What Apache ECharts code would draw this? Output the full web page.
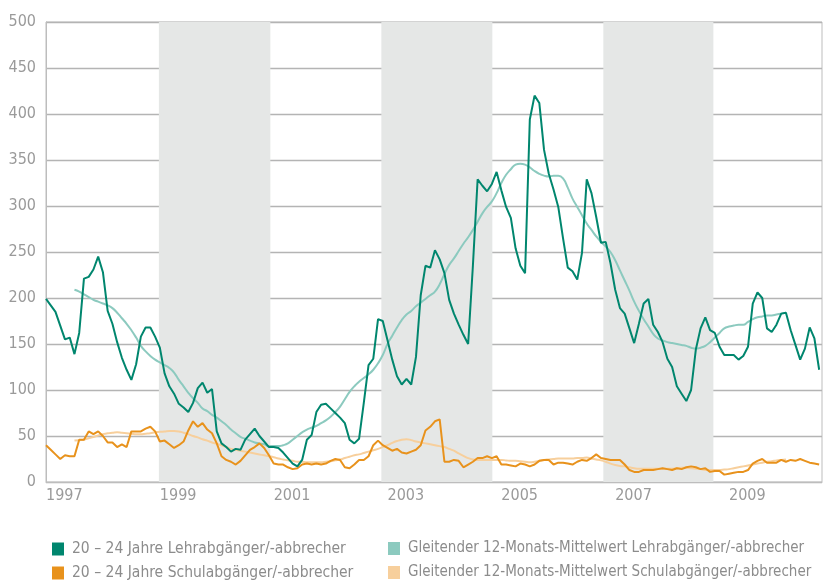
<!DOCTYPE html>
<html>
<head>
<meta charset="utf-8">
<script src="https://cdn.jsdelivr.net/npm/echarts@6/dist/echarts.min.js"></script>
<style>
  html, body { margin: 0; padding: 0; background: #fff; }
  #chart { width: 824px; height: 583px; }
</style>
</head>
<body>
<div id="chart"></div>
<script>
// monthly values, Jan 1997 = index 0
const firstYear = 1997;
const yTicks = [0, 50, 100, 150, 200, 250, 300, 350, 400, 450, 500];

const lehr = [
  199, 192, 185, 170, 155, 157, 139, 162, 221, 223,
  231, 245, 228, 186, 172, 152, 135, 122, 111, 128,
  158, 168, 168, 158, 146, 118, 104, 96, 85, 81,
  76, 86, 102, 108, 97, 101, 55, 42, 38, 33,
  36, 35, 46, 52, 58, 50, 44, 38, 38, 37,
  32, 26, 20, 17, 24, 46, 51, 76, 84, 85,
  80, 75, 70, 64, 46, 42, 47, 86, 127, 134,
  177, 175, 154, 133, 115, 106, 112, 106, 136, 203,
  235, 233, 252, 242, 227, 198, 183, 171, 160, 150,
  235, 329, 322, 316, 324, 337, 317, 299, 287, 254,
  235, 227, 394, 420, 412, 361, 335, 318, 299, 265,
  233, 229, 220, 249, 329, 314, 288, 260, 261, 238,
  209, 189, 183, 167, 151, 172, 194, 199, 171, 163,
  152, 134, 125, 104, 96, 88, 100, 144, 167, 179,
  165, 162, 147, 138, 138, 138, 133, 137, 147, 194,
  206, 200, 167, 163, 171, 183, 184, 165, 149, 133,
  145, 168, 156, 122
];

const schul = [
  40, 35, 30, 25, 29, 28, 28, 46, 46, 55,
  52, 55, 50, 43, 43, 38, 41, 38, 55, 55,
  55, 58, 60, 55, 44, 45, 41, 37, 40, 44,
  56, 66, 60, 64, 57, 53, 42, 28, 24, 22,
  19, 23, 29, 35, 38, 42, 37, 29, 20, 19,
  19, 16, 14, 15, 19, 20, 19, 20, 19, 20,
  23, 25, 24, 16, 15, 19, 24, 24, 28, 40,
  45, 40, 37, 34, 36, 32, 31, 33, 35, 40,
  56, 60, 66, 68, 22, 22, 24, 23, 16, 19,
  22, 26, 26, 28, 26, 28, 19, 19, 18, 17,
  20, 19, 17, 19, 23, 24, 24, 19, 21, 21,
  20, 19, 22, 24, 23, 26, 30, 26, 25, 24,
  24, 24, 19, 13, 11, 11, 13, 13, 13, 14,
  15, 14, 13, 15, 14, 16, 17, 16, 14, 15,
  11, 12, 12, 8, 9, 10, 11, 11, 13, 20,
  23, 25, 21, 21, 21, 24, 22, 24, 23, 25,
  23, 21, 20, 19
];

// 12-month moving averages start at month index 6
const maStart = 6;
const maLehr = [
  209, 207, 204, 201, 198, 196, 194, 192, 189, 184,
  178, 172, 165, 157, 148, 142, 137, 133, 130, 127,
  124, 119, 111, 104, 97, 91, 86, 80, 77, 73,
  70, 66, 62, 57, 53, 49, 47, 45, 43, 42,
  41, 39, 39, 39, 40, 42, 46, 50, 54, 57,
  59, 61, 64, 67, 71, 76, 82, 90, 98, 104,
  109, 113, 117, 122, 129, 138, 150, 159, 168, 176,
  182, 186, 191, 195, 199, 203, 207, 215, 226, 236,
  243, 251, 259, 266, 274, 283, 292, 299, 305, 314,
  325, 334, 340, 345, 346, 345, 342, 338, 335, 333,
  332, 333, 333, 330, 320, 308, 299, 290, 281, 274,
  267, 261, 256, 250, 241, 230, 219, 208, 196, 186,
  177, 169, 161, 156, 154, 152, 151, 150, 149, 148,
  146, 145, 146, 148, 152, 157, 162, 167, 169, 170,
  171, 171, 174, 177, 179, 180, 181, 181, 182, 183,
  184
];

const maSchul = [
  45, 45.5, 46, 47.5, 49, 50.5, 52, 53, 53.5, 54,
  53.5, 53, 52.5, 52, 52, 52.5, 53, 54, 54.5, 55,
  55.5, 55.5, 55, 53.5, 52, 50, 48.5, 46.5, 45, 43,
  41.5, 40, 38, 36, 35, 34, 33, 32, 31, 30,
  29, 28, 27, 25.5, 24.5, 23.5, 23, 22, 22, 21.5,
  21.5, 21.5, 21.5, 22, 22.5, 23.5, 24.5, 26, 27.5, 29,
  30, 31.5, 33, 34.5, 36, 38, 40, 42.5, 44.5, 46,
  46.5, 45.5, 44, 43, 42, 41, 40, 39, 38, 36,
  34, 31, 28.5, 26, 24.5, 24, 24, 24, 24, 24,
  24, 23.5, 23, 23, 22.5, 22, 21.5, 22, 23, 24,
  24.5, 25, 25.5, 25.5, 25.5, 25.5, 26, 26, 26.5, 25.5,
  24.5, 23.5, 22, 20, 18.5, 17.5, 17, 16, 15, 14.5,
  14.5, 14.5, 14.5, 14.5, 14.5, 14.5, 14.5, 15, 15.5, 15.5,
  15, 14.5, 14, 13, 13, 13, 13, 13.5, 14, 15,
  16, 17, 18, 19, 20, 21, 22, 22.5, 23.5, 24,
  24.5
];

// shaded periods, in month index
const bands = [[23.8, 47.3], [70.7, 94.1], [117.5, 140.7]];

const names = [
  '20 – 24 Jahre Lehrabgänger/-abbrecher',
  'Gleitender 12-Monats-Mittelwert Lehrabgänger/-abbrecher',
  '20 – 24 Jahre Schulabgänger/-abbrecher',
  'Gleitender 12-Monats-Mittelwert Schulabgänger/-abbrecher'
];
const colors = ['#00866e', '#8ccabf', '#e8921c', '#f7cf9c'];

const font = "'Liberation Sans Narrow', 'DejaVu Sans Condensed', 'Roboto', sans-serif";

function pairs(arr, offset) {
  return arr.map((v, i) => [i + offset, v]);
}

// one legend per entry, laid out as two columns
function legendItem(name, left, top, size) {
  return {
    left: left,
    top: top,
    padding: 0,
    itemWidth: 12,
    itemHeight: 13,
    icon: 'rect',
    textStyle: { color: '#8c8c8c', fontSize: size, fontFamily: font, padding: [0, 0, 0, 3] },
    data: [name]
  };
}

const chart = echarts.init(document.getElementById('chart'));

const option = {
  animation: false,
  textStyle: { fontFamily: font },
  grid: {
    left: 46,
    right: 2,
    top: 22,
    bottom: 101,
    show: true,
    borderColor: '#bdbdbd',
    borderWidth: 1
  },
  legend: [
    legendItem(names[0], 52, 541, 15.5),
    legendItem(names[2], 52, 565, 15.5),
    legendItem(names[1], 388, 541, 15),
    legendItem(names[3], 388, 565, 15)
  ],
  xAxis: {
    type: 'value',
    min: 0,
    max: 163.6,
    interval: 24,
    axisLine: { show: true, lineStyle: { color: '#bdbdbd', width: 1 } },
    axisTick: { show: false },
    splitLine: { show: false },
    axisLabel: {
      color: '#9a9a9a',
      fontSize: 16,
      fontFamily: font,
      align: 'left',
      margin: 6,
      showMaxLabel: false,
      formatter: (v) => String(firstYear + v / 12)
    }
  },
  yAxis: {
    type: 'value',
    min: yTicks[0],
    max: yTicks[yTicks.length - 1],
    interval: 50,
    axisLine: { show: true, lineStyle: { color: '#bdbdbd', width: 1 } },
    axisTick: { show: false },
    splitLine: { lineStyle: { color: '#b4b4b4', width: 1.4 } },
    axisLabel: { color: '#9a9a9a', fontSize: 16, fontFamily: font, margin: 10 }
  },
  series: [
    {
      name: names[1],
      type: 'line',
      smooth: true,
      showSymbol: false,
      color: colors[1],
      lineStyle: { width: 2, color: colors[1] },
      data: pairs(maLehr, maStart),
      markArea: {
        silent: true,
        itemStyle: { color: '#e5e7e6' },
        data: bands.map((b) => [{ xAxis: b[0] }, { xAxis: b[1] }])
      },
      z: 2
    },
    {
      name: names[3],
      type: 'line',
      smooth: true,
      showSymbol: false,
      color: colors[3],
      lineStyle: { width: 2, color: colors[3] },
      data: pairs(maSchul, maStart),
      z: 2
    },
    {
      name: names[2],
      type: 'line',
      showSymbol: false,
      color: colors[2],
      lineStyle: { width: 2, color: colors[2] },
      data: pairs(schul, 0),
      z: 3
    },
    {
      name: names[0],
      type: 'line',
      showSymbol: false,
      color: colors[0],
      lineStyle: { width: 2, color: colors[0] },
      data: pairs(lehr, 0),
      z: 4
    }
  ]
};

chart.setOption(option);
</script>
</body>
</html>
